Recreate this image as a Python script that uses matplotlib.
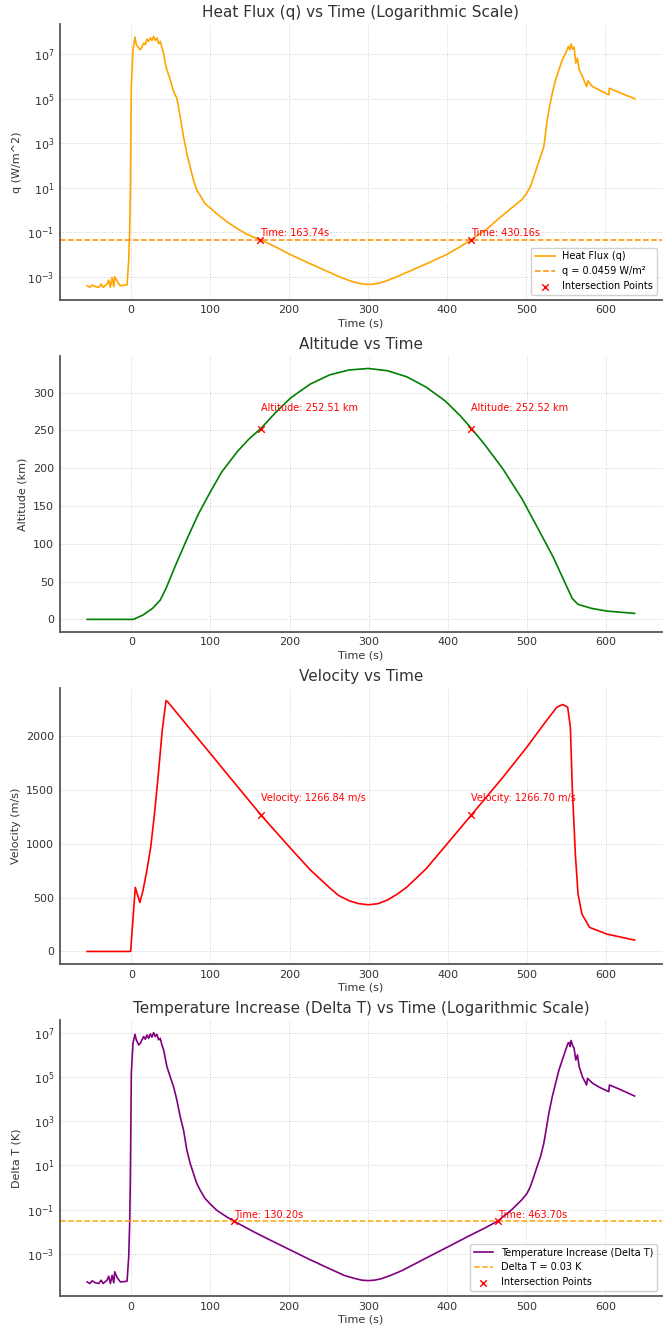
import matplotlib.pyplot as plt
import numpy as np

# --- heat flux q (log10 values) ---
q_time = [-55.5, -52.1, -49.2, -45, -40.8, -37.8, -35.3, -30.3, -28.2, -26.1, -23.9,
          -21.8, -20.6, -17.6, -13.4, -5, -2.9, -1.7, -0.8, 0.4, 2.5, 5.0, 6.7, 9.7,
          11.8, 13.9, 16, 18.1, 20.2, 22.3, 24.4, 26.5, 28.6, 30.7, 32.8, 34.9, 37,
          39.1, 41.2, 43.3, 45.4, 49.6, 53.8, 58, 62.2, 66.4, 70.6, 74.8, 79, 83.2,
          87.4, 93.7, 100, 108.4, 121, 133.6, 146, 155, 163.74, 183, 200, 220, 240,
          262, 275, 285, 293, 300, 308, 316, 325, 335, 350, 375, 400, 415, 430.16,
          439.1, 450, 464.7, 481.7, 494.5, 500, 505.1, 509.4, 513.6, 517.9, 522.1,
          524.3, 526.4, 529.4, 532.8, 537, 541.3, 545.5, 549.8, 553.2, 554.9, 556.6,
          558.3, 560.4, 562.6, 564.7, 566.8, 571, 576.2, 577.9, 583.8, 592.3, 604.3,
          605.1, 617.9, 637]
q_log = [-3.41, -3.48, -3.38, -3.45, -3.48, -3.33, -3.48, -3.33, -3.15, -3.48, -3.03,
         -3.45, -3.0, -3.21, -3.41, -3.36, -2.28, -0.92, 1.04, 5.55, 7.21, 7.78, 7.44,
         7.29, 7.21, 7.36, 7.51, 7.44, 7.69, 7.59, 7.74, 7.63, 7.81, 7.63, 7.74, 7.48,
         7.59, 7.29, 7.06, 6.61, 6.31, 5.86, 5.33, 5.03, 4.2, 3.3, 2.54, 1.94, 1.34,
         0.89, 0.66, 0.28, 0.10, -0.17, -0.52, -0.82, -1.08, -1.22, -1.338, -1.66,
         -1.98, -2.31, -2.63, -2.98, -3.16, -3.27, -3.33, -3.35, -3.33, -3.27, -3.16,
         -3.02, -2.79, -2.40, -1.99, -1.68, -1.338, -1.12, -0.86, -0.40, 0.10, 0.47,
         0.73, 1.04, 1.49, 1.94, 2.39, 2.84, 3.45, 4.05, 4.65, 5.25, 5.86, 6.31, 6.76,
         7.06, 7.36, 7.21, 7.48, 7.24, 7.33, 6.61, 6.83, 6.31, 6.01, 5.55, 5.81, 5.55,
         5.4, 5.18, 5.48, 5.28, 5.01]
q_threshold = 0.0459
q_cross_t = [163.74, 430.16]

# --- altitude (km) ---
alt_time = [-56, 2.4, 14.6, 26.8, 36.5, 43.8, 56, 70.6, 85.2, 100, 114.5, 134, 148.6,
            163.74, 182.7, 202, 226.5, 250.8, 275.2, 299.6, 323.9, 348.3, 372.6, 397,
            416.4, 430.16, 445.7, 470, 494.4, 513.9, 533.3, 547.9, 557.6, 564.9, 582,
            601.5, 636.6]
alt_km = [0, 0, 5.7, 14.6, 25.6, 41, 71.9, 107.2, 140.3, 169, 195.4, 222, 238.5,
          252.51, 274, 293.5, 311.5, 323.5, 330, 332, 329, 321, 307.5, 289, 269,
          252.52, 233, 199, 159, 121, 83, 49.8, 27.8, 19.9, 14.6, 11, 7.9]
alt_cross = [252.51, 252.52]

# --- velocity (m/s) ---
vel_time = [-56, -1, 4.9, 10.7, 14.6, 19.5, 24.4, 29.2, 34.1, 39, 43.8, 46.3, 70.6,
            100, 129.1, 163.74, 200.2, 226.5, 250.8, 262, 275.2, 287, 299.6, 312,
            323.9, 336, 348.3, 372.6, 400, 430.16, 470, 500.2, 523.6, 538.2, 545.5,
            551.9, 555.3, 557.7, 561.6, 565, 569.9, 579.6, 601.5, 636.6]
vel_ms = [0, 0, 594, 455, 563, 749, 966, 1276, 1647, 2050, 2328, 2313, 2096, 1835,
          1575, 1266.84, 966, 755, 590, 520, 471, 444, 433, 443, 477, 530, 596, 765,
          1003, 1266.70, 1616, 1895, 2127, 2266, 2291, 2266, 2080, 1523, 904, 533, 347,
          223, 161, 105]
vel_cross = [1266.84, 1266.70]

# --- temperature increase delta T (log10 values) ---
dt_time = [-55.5, -52.1, -49.2, -45, -40.8, -37.8, -35.3, -30.3, -28.2, -26.1, -23.9,
           -21.8, -20.6, -17.6, -13.4, -5, -2.9, -1.7, -0.8, 0.4, 2.5, 5.0, 6.7, 9.7,
           11.8, 13.9, 16, 18.1, 20.2, 22.3, 24.4, 26.5, 28.6, 30.7, 32.8, 34.9, 37,
           39.1, 41.2, 43.3, 45.4, 49.6, 53.8, 58, 62.2, 66.4, 70.6, 74.8, 79, 83.2,
           87.4, 93.7, 100, 108.4, 121, 130.2, 155, 175, 200, 225, 251.6, 270, 283.7,
           292, 300, 308, 316, 328, 342.6, 370, 400, 426.4, 445, 463.7, 481.7, 494.5,
           500.9, 505, 509.4, 513.6, 517.9, 522.1, 525, 528.5, 532.8, 537, 541.3,
           545.5, 549.8, 552.8, 554.2, 555.3, 556.6, 558.3, 560.4, 562.6, 564.7, 566.8,
           571, 576.2, 577.4, 583.8, 592.3, 604.3, 605.1, 617.9, 637]
dt_log = [-4.27, -4.34, -4.22, -4.31, -4.34, -4.19, -4.34, -4.19, -4.01, -4.34, -3.97,
          -4.31, -3.81, -4.07, -4.27, -4.24, -3.14, -1.63, 0.48, 5.16, 6.52, 6.92, 6.67,
          6.44, 6.52, 6.67, 6.82, 6.70, 6.89, 6.74, 6.94, 6.79, 7.0, 6.82, 6.92, 6.67,
          6.74, 6.44, 6.22, 5.84, 5.46, 5.0, 4.56, 3.95, 3.2, 2.6, 1.69, 1.09, 0.63,
          0.18, -0.12, -0.5, -0.74, -1.03, -1.33, -1.523, -2.00, -2.36, -2.80, -3.24,
          -3.68, -3.98, -4.12, -4.19, -4.21, -4.19, -4.13, -3.98, -3.76, -3.25, -2.70,
          -2.21, -1.88, -1.523, -1.0, -0.55, -0.27, 0.03, 0.48, 0.94, 1.39, 1.99, 2.6,
          3.35, 4.1, 4.7, 5.31, 5.76, 6.22, 6.52, 6.55, 6.37, 6.64, 6.44, 6.29, 5.76,
          5.99, 5.46, 5.0, 4.63, 4.93, 4.71, 4.53, 4.33, 4.63, 4.44, 4.13]
dt_threshold = 0.03
dt_cross_t = [130.20, 463.70]

TEXT = "#333333"


def style_axes(ax):
    for side in ["top", "right"]:
        ax.spines[side].set_visible(False)
    for side in ["left", "bottom"]:
        ax.spines[side].set_color("#555555")
        ax.spines[side].set_linewidth(1.3)
    ax.grid(True, linestyle=":", color="#cfcfcf", linewidth=0.7)
    ax.tick_params(labelsize=8, colors=TEXT, length=0, pad=4)
    ax.set_xlabel("Time (s)", fontsize=8, color=TEXT, labelpad=2)
    ax.set_xticks([0, 100, 200, 300, 400, 500, 600])


plt.rcParams["font.family"] = "DejaVu Sans"
fig, axes = plt.subplots(4, 1, figsize=(6.64, 13.26), dpi=100)
fig.subplots_adjust(left=0.09, right=0.997, top=0.982, bottom=0.0226, hspace=0.203)

# heat flux
ax = axes[0]
q_vals = 10 ** np.array(q_log)
ax.plot(q_time, q_vals, color="orange", lw=1.2, label="Heat Flux (q)")
ax.axhline(q_threshold, color="darkorange", ls="--", lw=1.1,
           label=f"q = {q_threshold} W/m²")
ax.scatter(q_cross_t, [q_threshold] * 2, color="red", marker="x", s=22, lw=1,
           label="Intersection Points", zorder=5)
for t in q_cross_t:
    ax.text(t, q_threshold * 1.15, f"Time: {t:.2f}s", color="red", fontsize=7,
            va="bottom")
ax.set_yscale("log")
ax.set_yticks([1e-3, 1e-1, 1e1, 1e3, 1e5, 1e7])
ax.minorticks_off()
ax.set_title("Heat Flux (q) vs Time (Logarithmic Scale)", fontsize=11, color=TEXT, pad=5)
ax.set_ylabel("q (W/m^2)", fontsize=8, color=TEXT)
style_axes(ax)
ax.legend(loc="lower right", fontsize=7, edgecolor="#cccccc", framealpha=0.9)

# altitude
ax = axes[1]
ax.plot(alt_time, alt_km, color="green", lw=1.2)
for t, a in zip(q_cross_t, alt_cross):
    ax.scatter(t, a, color="red", marker="x", s=22, lw=1, zorder=5)
    ax.text(t, a + 20, f"Altitude: {a:.2f} km", color="red", fontsize=7, va="bottom")
ax.set_title("Altitude vs Time", fontsize=11, color=TEXT, pad=5)
ax.set_ylabel("Altitude (km)", fontsize=8, color=TEXT)
style_axes(ax)

# velocity
ax = axes[2]
ax.plot(vel_time, vel_ms, color="red", lw=1.2)
for t, v in zip(q_cross_t, vel_cross):
    ax.scatter(t, v, color="red", marker="x", s=22, lw=1, zorder=5)
    ax.text(t, v + 110, f"Velocity: {v:.2f} m/s", color="red", fontsize=7, va="bottom")
ax.set_title("Velocity vs Time", fontsize=11, color=TEXT, pad=5)
ax.set_ylabel("Velocity (m/s)", fontsize=8, color=TEXT)
style_axes(ax)

# delta T
ax = axes[3]
dt_vals = 10 ** np.array(dt_log)
ax.plot(dt_time, dt_vals, color="purple", lw=1.2, label="Temperature Increase (Delta T)")
ax.axhline(dt_threshold, color="orange", ls="--", lw=1.1,
           label=f"Delta T = {dt_threshold} K")
ax.scatter(dt_cross_t, [dt_threshold] * 2, color="red", marker="x", s=22, lw=1,
           label="Intersection Points", zorder=5)
for t in dt_cross_t:
    ax.text(t, dt_threshold * 1.15, f"Time: {t:.2f}s", color="red", fontsize=7,
            va="bottom")
ax.set_yscale("log")
ax.set_yticks([1e-3, 1e-1, 1e1, 1e3, 1e5, 1e7])
ax.minorticks_off()
ax.set_title("Temperature Increase (Delta T) vs Time (Logarithmic Scale)", fontsize=11,
             color=TEXT, pad=5)
ax.set_ylabel("Delta T (K)", fontsize=8, color=TEXT)
style_axes(ax)
ax.legend(loc="lower right", fontsize=7, edgecolor="#cccccc", framealpha=0.9)

plt.savefig("out.png", dpi=100)
